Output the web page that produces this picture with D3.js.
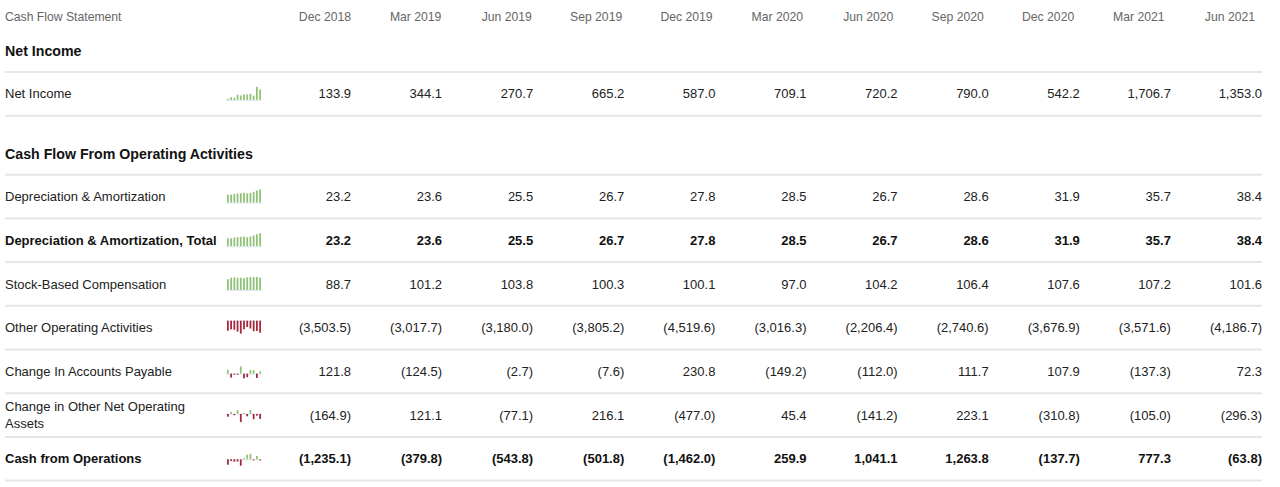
<!DOCTYPE html>
<html>
<head>
<meta charset="utf-8">
<script src="https://cdn.jsdelivr.net/npm/d3@7"></script>
<style>
  body { margin: 0; background: #fff; }
  svg text { font-family: Arial, "Liberation Sans", sans-serif; }
  .colHead { font-size: 12.2px; fill: #666; }
  .section { font-size: 14.2px; font-weight: bold; fill: #111; }
  .label, .value { font-size: 13px; fill: #222; }
  .bold { font-weight: bold; fill: #111; }
</style>
</head>
<body>
<div id="chart"></div>
<script>
// periods shown as columns
var periods = ["Dec 2018", "Mar 2019", "Jun 2019", "Sep 2019", "Dec 2019", "Mar 2020",
    "Jun 2020", "Sep 2020", "Dec 2020", "Mar 2021", "Jun 2021"];

var netIncome = [133.9, 344.1, 270.7, 665.2, 587.0, 709.1, 720.2, 790.0, 542.2, 1706.7, 1353.0];
var deprAmort = [23.2, 23.6, 25.5, 26.7, 27.8, 28.5, 26.7, 28.6, 31.9, 35.7, 38.4];
var deprAmortTotal = [23.2, 23.6, 25.5, 26.7, 27.8, 28.5, 26.7, 28.6, 31.9, 35.7, 38.4];
var stockComp = [88.7, 101.2, 103.8, 100.3, 100.1, 97.0, 104.2, 106.4, 107.6, 107.2, 101.6];
var otherOperating = [-3503.5, -3017.7, -3180.0, -3805.2, -4519.6, -3016.3, -2206.4, -2740.6, -3676.9, -3571.6, -4186.7];
var accountsPayable = [121.8, -124.5, -2.7, -7.6, 230.8, -149.2, -112.0, 111.7, 107.9, -137.3, 72.3];
var otherNetAssets = [-164.9, 121.1, -77.1, 216.1, -477.0, 45.4, -141.2, 223.1, -310.8, -105.0, -296.3];
var cashFromOps = [-1235.1, -379.8, -543.8, -501.8, -1462.0, 259.9, 1041.1, 1263.8, -137.7, 777.3, -63.8];

var sections = ["Net Income", "Cash Flow From Operating Activities"];
var rows = [
    { section: 0, label: "Net Income", values: netIncome, bold: false },
    { section: 1, label: "Depreciation & Amortization", values: deprAmort, bold: false },
    { section: 1, label: "Depreciation & Amortization, Total", values: deprAmortTotal, bold: true },
    { section: 1, label: "Stock-Based Compensation", values: stockComp, bold: false },
    { section: 1, label: "Other Operating Activities", values: otherOperating, bold: false },
    { section: 1, label: "Change In Accounts Payable", values: accountsPayable, bold: false },
    { section: 1, label: "Change in Other Net Operating Assets", values: otherNetAssets, bold: false },
    { section: 1, label: "Cash from Operations", values: cashFromOps, bold: true }
];

var width = 1280, height = 487;
var left = 5, right = 1262;
var headH = 34, sectionH = 38, rowH = 43.7, sectionGap = 21;

var svg = d3.select("#chart").append("svg").attr("width", width).attr("height", height);

// column positions (right edge of each number)
var x = d3.scaleLinear().domain([0, periods.length - 1]).range([351, right]);
var xHead = d3.scaleLinear().domain([0, periods.length - 1]).range([351, 1255]);

// header row
svg.append("text").attr("class", "colHead").attr("x", left).attr("y", 17).attr("dy", "0.35em").text("Cash Flow Statement");
svg.selectAll("text.head").data(periods).enter().append("text")
    .attr("class", "colHead head")
    .attr("x", (d, i) => xHead(i)).attr("y", 17).attr("dy", "0.35em")
    .style("text-anchor", "end").text(d => d);

// work out vertical layout
var y = headH;
var layout = [];
sections.forEach(function (s, si) {
    if (si > 0) y += sectionGap;
    layout.push({ type: "section", label: s, mid: y + sectionH / 2 - 2, bottom: y + sectionH });
    y += sectionH;
    rows.filter(r => r.section == si).forEach(function (r) {
        layout.push({ type: "row", row: r, mid: y + rowH / 2, bottom: y + rowH });
        y += rowH;
    });
});

var fmt = d3.format(",.1f");
var fmtVal = v => v < 0 ? "(" + fmt(-v) + ")" : fmt(v);

// separator lines
svg.selectAll("line.sep").data(layout).enter().append("line")
    .attr("class", "sep")
    .attr("x1", left).attr("x2", right)
    .attr("y1", d => d.bottom).attr("y2", d => d.bottom)
    .style("stroke", "#e6e6e6").style("stroke-width", 2);

svg.selectAll("text.section").data(layout.filter(d => d.type == "section")).enter().append("text")
    .attr("class", "section").attr("x", left).attr("y", d => d.mid).attr("dy", "0.35em")
    .text(d => d.label);

var rowItems = layout.filter(d => d.type == "row");

var g = svg.selectAll("g.row").data(rowItems).enter().append("g")
    .attr("class", "row")
    .attr("transform", d => `translate(0, ${d.mid})`);

// labels, wrapped if too wide
g.append("text")
    .attr("class", d => d.row.bold ? "label bold" : "label")
    .attr("x", left).attr("y", 0).attr("dy", "0.35em")
    .text(d => d.row.label)
    .each(function (d) {
        var t = d3.select(this);
        if (this.getComputedTextLength() <= 218) return;
        var words = d.row.label.split(" "), lines = [], line = [];
        t.text(null);
        var tmp = t.append("tspan");
        words.forEach(function (w) {
            line.push(w);
            tmp.text(line.join(" "));
            if (tmp.node().getComputedTextLength() > 190 && line.length > 1) {
                line.pop();
                lines.push(line.join(" "));
                line = [w];
            }
        });
        lines.push(line.join(" "));
        tmp.remove();
        lines.forEach(function (l, i) {
            t.append("tspan").attr("x", left)
                .attr("y", (i - (lines.length - 1) / 2) * 17).attr("dy", "0.35em").text(l);
        });
    });

// values
g.selectAll("text.value").data(d => d.row.values.map(v => ({ v: v, bold: d.row.bold }))).enter().append("text")
    .attr("class", d => d.bold ? "value bold" : "value")
    .attr("x", (d, i) => x(i)).attr("y", 0).attr("dy", "0.35em")
    .style("text-anchor", "end")
    .text(d => fmtVal(d.v));

// sparklines
var sx = d3.scaleBand().domain(d3.range(periods.length)).range([227, 261]).paddingInner(0.45);

g.each(function (d) {
    var vals = d.row.values;
    var mixed = d3.min(vals) < 0 && d3.max(vals) > 0;
    var sy = d3.scaleLinear()
        .domain([Math.min(0, d3.min(vals)), Math.max(0, d3.max(vals))])
        .range(mixed ? [7, -5] : [6, -7]);
    var sg = d3.select(this).append("g").attr("class", "spark");
    sg.append("line")
        .attr("x1", 226).attr("x2", 262)
        .attr("y1", sy(0) + 0.5).attr("y2", sy(0) + 0.5)
        .style("stroke", "#dde8f1").style("stroke-width", 1);
    sg.selectAll("rect").data(vals).enter().append("rect")
        .attr("x", (v, i) => sx(i))
        .attr("width", sx.bandwidth())
        .attr("y", v => Math.min(sy(v), sy(0)))
        .attr("height", v => Math.max(1, Math.abs(sy(v) - sy(0))))
        .style("fill", v => v >= 0 ? "#8fc177" : "#a6263b");
});
</script>
</body>
</html>
